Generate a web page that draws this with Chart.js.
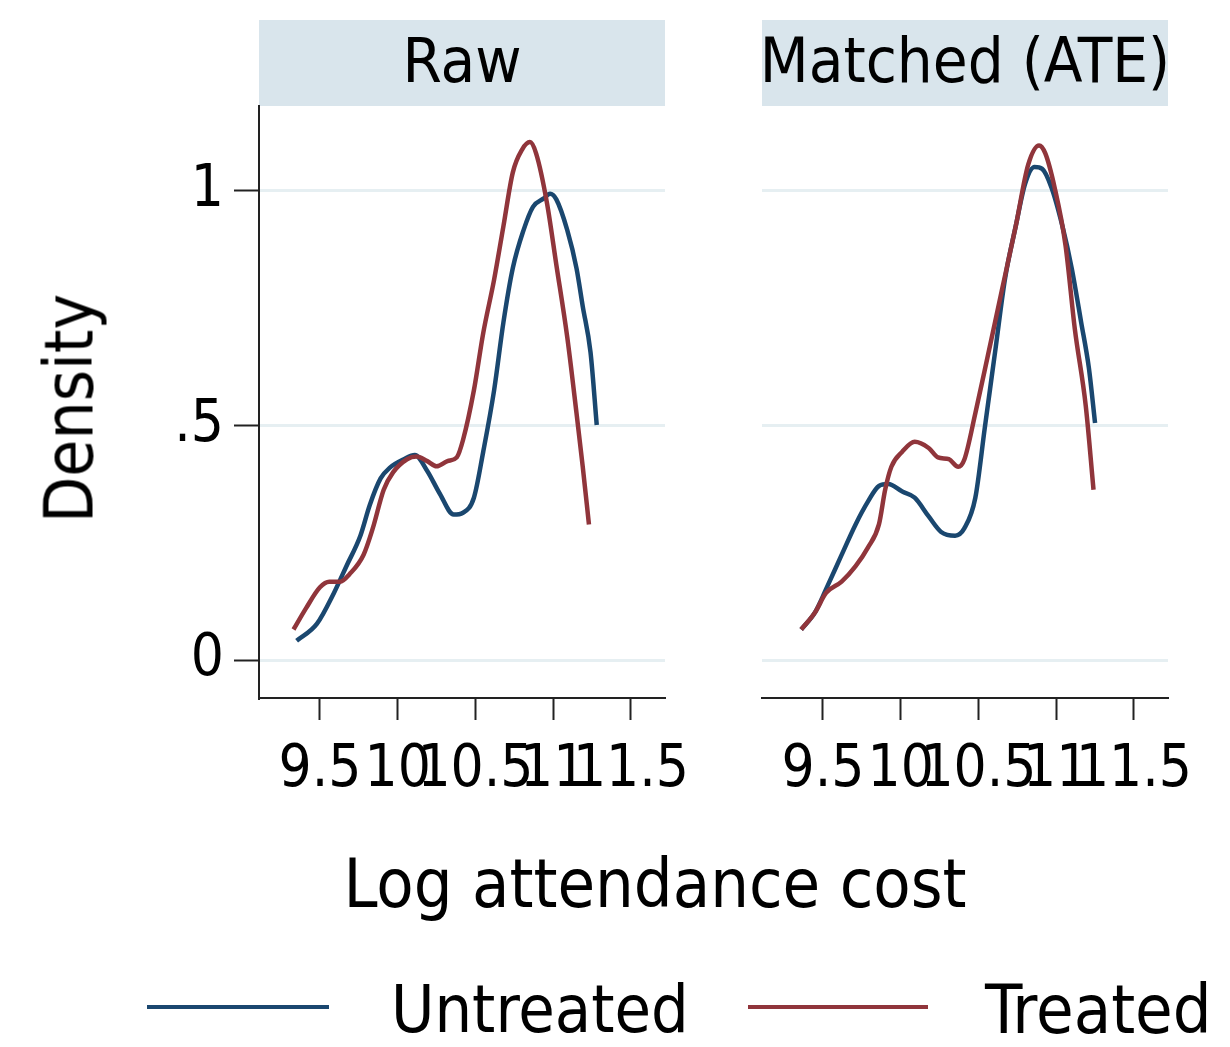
<!DOCTYPE html>
<html>
<head>
<meta charset="utf-8">
<script src="https://cdn.jsdelivr.net/npm/chart.js@4.4.1/dist/chart.umd.min.js"></script>
<style>
  body { margin: 0; background: #fff; width: 1230px; height: 1047px; position: relative; overflow: hidden;
         font-family: "DejaVu Sans Condensed", "DejaVu Sans", sans-serif; color: #000; }
  .strip { position: absolute; top: 20px; height: 86px; width: 406px; background: #d9e5ec; }
  .strip span { position: absolute; left: -40px; right: -40px; top: 9px; font-size: 63px; line-height: 63px;
                text-align: center; white-space: nowrap; }
  .txt { position: absolute; white-space: nowrap; font-size: 66px; line-height: 66px; }
  .key { position: absolute; height: 4px; }
  canvas { position: absolute; }
</style>
</head>
<body>
<div class="strip" style="left:259px"><span>Raw</span></div>
<div class="strip" style="left:762px"><span>Matched (ATE)</span></div>

<canvas id="rawChart" width="730" height="749" style="left:0;top:51px"></canvas>
<canvas id="matchedChart" width="520" height="749" style="left:700px;top:51px"></canvas>

<div class="txt" style="left:-80px;top:375px;width:300px;text-align:center;font-size:67px;line-height:67px;transform:rotate(-90deg)">Density</div>
<div class="txt" style="left:305px;top:850px;width:700px;text-align:center;font-size:68px;line-height:68px">Log attendance cost</div>

<div class="key" style="left:147px;top:1005px;width:182px;background:#1a476f"></div>
<div class="txt" style="left:391px;top:977px">Untreated</div>
<div class="key" style="left:748px;top:1005px;width:180px;background:#90353b"></div>
<div class="txt" style="left:985px;top:977px;font-size:68px">Treated</div>

<script>
// axis ranges and tick labels
const xTicks = [9.5, 10, 10.5, 11, 11.5];
const yTicks = [0, 0.5, 1];
const xMin = 9.108, xMax = 11.719;
const yMin = -0.081, yMax = 1.181;

// Raw sample kernel densities
const rawUntreatedX = [9.35, 9.48, 9.59, 9.67, 9.76, 9.82, 9.89, 9.95, 10.04, 10.11, 10.19, 10.27, 10.36, 10.42, 10.49,
                       10.55, 10.62, 10.68, 10.74, 10.81, 10.87, 10.94, 10.98, 11.02, 11.09, 11.15, 11.19, 11.24, 11.28];
const rawUntreatedY = [0.041, 0.077, 0.143, 0.20, 0.265, 0.33, 0.387, 0.41, 0.428, 0.437, 0.403, 0.355, 0.31, 0.314, 0.346,
                       0.444, 0.575, 0.72, 0.835, 0.917, 0.966, 0.984, 0.994, 0.982, 0.917, 0.835, 0.754, 0.656, 0.501];
const rawTreatedX = [9.33, 9.41, 9.50, 9.56, 9.63, 9.69, 9.78, 9.84, 9.91, 9.97, 10.06, 10.12, 10.19, 10.25, 10.32, 10.38,
                     10.42, 10.49, 10.55, 10.62, 10.68, 10.74, 10.80, 10.85, 10.89, 10.96, 11.02, 11.09, 11.15, 11.19, 11.23];
const rawTreatedY = [0.065, 0.11, 0.155, 0.167, 0.167, 0.183, 0.224, 0.281, 0.363, 0.40, 0.428, 0.434, 0.424, 0.413, 0.424, 0.432,
                     0.469, 0.575, 0.697, 0.811, 0.925, 1.039, 1.088, 1.104, 1.08, 0.974, 0.843, 0.689, 0.526, 0.412, 0.289];

// Matched (ATE) sample
const matchedUntreatedX = [9.36, 9.45, 9.52, 9.62, 9.71, 9.79, 9.86, 9.92, 10.01, 10.09, 10.18, 10.26, 10.35, 10.41,
                           10.48, 10.54, 10.61, 10.67, 10.74, 10.80, 10.86, 10.91, 10.97, 11.04, 11.10, 11.16, 11.21, 11.25];
const matchedUntreatedY = [0.065, 0.102, 0.151, 0.224, 0.289, 0.338, 0.371, 0.375, 0.359, 0.346, 0.306, 0.273, 0.265, 0.281,
                           0.346, 0.493, 0.664, 0.811, 0.925, 1.015, 1.051, 1.047, 1.007, 0.925, 0.835, 0.721, 0.623, 0.505];
const matchedTreatedX = [9.36, 9.45, 9.52, 9.62, 9.71, 9.79, 9.86, 9.90, 9.94, 10.01, 10.09, 10.18, 10.24, 10.31,
                         10.37, 10.41, 10.48, 10.56, 10.65, 10.74, 10.82, 10.89, 10.93, 10.99, 11.06, 11.12, 11.19, 11.24];
const matchedTreatedY = [0.065, 0.102, 0.143, 0.167, 0.20, 0.24, 0.289, 0.363, 0.412, 0.444, 0.465, 0.452, 0.432, 0.428,
                         0.412, 0.428, 0.526, 0.648, 0.787, 0.925, 1.056, 1.097, 1.08, 1.007, 0.884, 0.705, 0.542, 0.363];

const fontFamily = '"DejaVu Sans Condensed", "DejaVu Sans", sans-serif';
const axisColor = '#222';

function pts(xs, ys) {
    return xs.map((x, i) => ({ x: x, y: ys[i] }));
}

function makePanel(id, untreated, treated, showY, padRight) {
    return new Chart(document.getElementById(id), {
        type: 'line',
        data: {
            datasets: [{
                label: 'Untreated',
                data: untreated,
                borderColor: '#1a476f',
                borderWidth: 4.5,
                pointRadius: 0,
                cubicInterpolationMode: 'monotone',
                fill: false,
                order: 1
            }, {
                label: 'Treated',
                data: treated,
                borderColor: '#90353b',
                borderWidth: 4.5,
                pointRadius: 0,
                cubicInterpolationMode: 'monotone',
                fill: false,
                order: 0
            }]
        },
        options: {
            responsive: false,
            animation: false,
            // top padding absorbs the half label height Chart.js reserves above the y axis
            layout: { padding: { left: 0, top: 55, bottom: 0, right: padRight } },
            plugins: { legend: { display: false }, tooltip: { enabled: false } },
            scales: {
                x: {
                    type: 'linear',
                    min: xMin,
                    max: xMax,
                    afterBuildTicks: s => { s.ticks = xTicks.map(v => ({ value: v })); },
                    afterFit: s => { s.height = 102; },
                    border: { display: true, color: axisColor, width: 2 },
                    grid: { drawOnChartArea: false, drawTicks: true, tickLength: 22, tickColor: axisColor, tickWidth: 2 },
                    ticks: {
                        autoSkip: false, maxRotation: 0, minRotation: 0, padding: 16, color: '#000',
                        font: { family: fontFamily, size: 58 },
                        callback: v => String(v)
                    }
                },
                y: {
                    type: 'linear',
                    min: yMin,
                    max: yMax,
                    afterBuildTicks: s => { s.ticks = yTicks.map(v => ({ value: v })); },
                    afterFit: s => { s.width = showY ? 259 : 62; },
                    border: { display: showY, color: axisColor, width: 2 },
                    grid: { color: '#e6eff2', lineWidth: 3, drawTicks: showY, tickLength: 25, tickColor: axisColor, tickWidth: 2 },
                    ticks: {
                        display: showY, padding: 10, color: '#000',
                        font: { family: fontFamily, size: 58 },
                        callback: v => (v === 0 ? '0' : v === 1 ? '1' : '.5')
                    }
                }
            }
        }
    });
}

makePanel('rawChart', pts(rawUntreatedX, rawUntreatedY), pts(rawTreatedX, rawTreatedY), true, 65);
makePanel('matchedChart', pts(matchedUntreatedX, matchedUntreatedY), pts(matchedTreatedX, matchedTreatedY), false, 52);
</script>
</body>
</html>
